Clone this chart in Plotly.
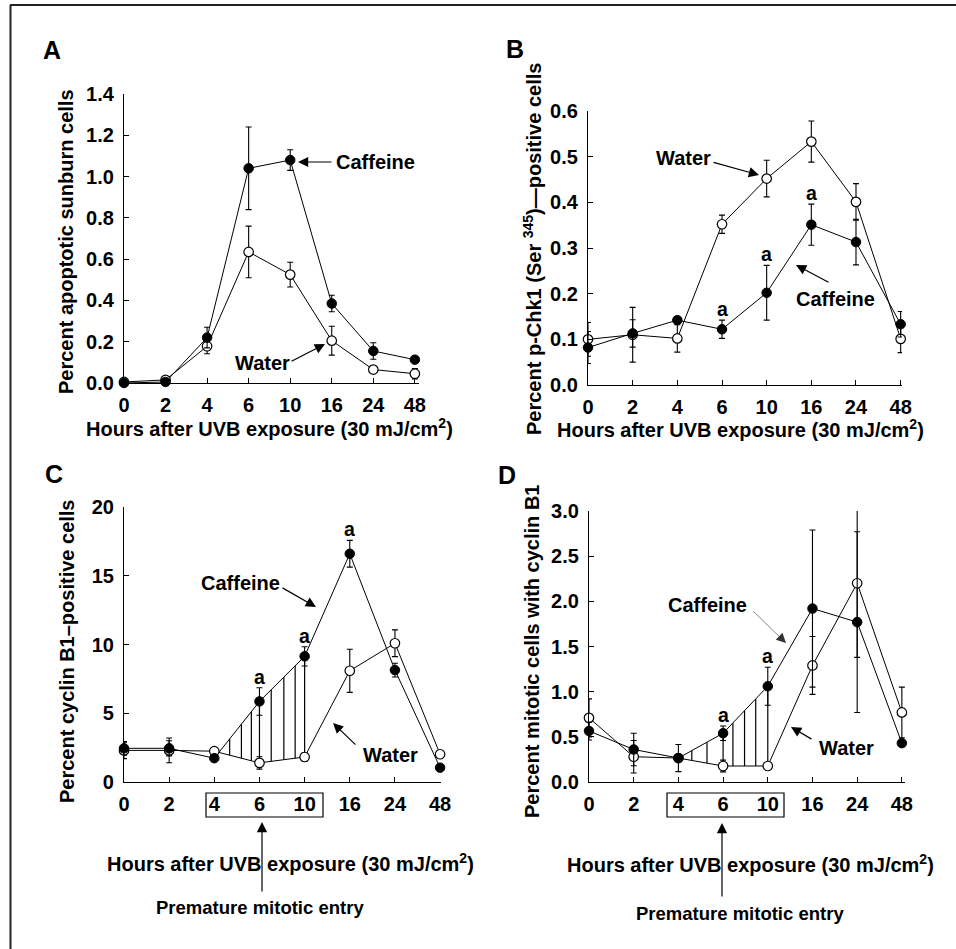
import numpy as np
import plotly.graph_objects as go

# ---------------- data ----------------
hours = ["0", "2", "4", "6", "10", "16", "24", "48"]

a_caffeine = [0.0, 0.005, 0.22, 1.04, 1.08, 0.385, 0.155, 0.113]
a_caffeine_err = [0.0, 0.0, 0.05, 0.20, 0.05, 0.04, 0.04, 0.01]
a_water = [0.005, 0.015, 0.178, 0.635, 0.525, 0.205, 0.065, 0.045]
a_water_err = [0.0, 0.005, 0.036, 0.125, 0.06, 0.07, 0.01, 0.025]

b_caffeine = [0.082, 0.113, 0.142, 0.122, 0.202, 0.351, 0.313, 0.133]
b_caffeine_err = [0.035, 0.03, 0.005, 0.02, 0.06, 0.045, 0.05, 0.028]
b_water = [0.10, 0.11, 0.102, 0.352, 0.452, 0.533, 0.401, 0.101]
b_water_err = [0.037, 0.06, 0.03, 0.02, 0.04, 0.045, 0.04, 0.03]

c_caffeine = [2.45, 2.45, 1.73, 5.86, 9.14, 16.6, 8.14, 1.04]
c_caffeine_err = [0.5, 0.55, 0.1, 1.0, 0.7, 0.97, 0.5, 0.1]
c_water = [2.3, 2.3, 2.24, 1.39, 1.82, 8.09, 10.09, 2.02]
c_water_err = [0.6, 0.9, 0.1, 0.45, 0.3, 1.57, 0.97, 0.1]

d_caffeine = [0.565, 0.36, 0.265, 0.54, 1.06, 1.92, 1.77, 0.43]
d_caffeine_err = [0.1, 0.18, 0.15, 0.08, 0.21, 0.87, 1.0, 0.03]
d_water = [0.71, 0.28, 0.265, 0.177, 0.177, 1.29, 2.20, 0.77]
d_water_err = [0.21, 0.18, 0.02, 0.065, 0.02, 0.32, 0.82, 0.28]

a_yticks = [0.0, 0.2, 0.4, 0.6, 0.8, 1.0, 1.2, 1.4]
b_yticks = [0.0, 0.1, 0.2, 0.3, 0.4, 0.5, 0.6]
c_yticks = [0, 5, 10, 15, 20]
d_yticks = [0.0, 0.5, 1.0, 1.5, 2.0, 2.5, 3.0]

b_sig = [3, 4, 5]
c_sig = [3, 4, 5]
d_sig = [3, 4]

c_hatch_pos = [2.34, 2.6, 2.82, 3.0, 3.26, 3.54, 3.79, 4.0]
d_hatch_pos = [2.3, 2.64, 3.0, 3.22, 3.48, 3.73, 4.0]

# ---------------- layout helpers ----------------
W, H = 956, 949
FONT = "Liberation Sans, Arial, sans-serif"


def px(x):
    return x / W


def py(y):
    return 1 - y / H


xi = list(range(len(hours)))

fig = go.Figure()

panels = [
    dict(c=a_caffeine, ce=a_caffeine_err, w=a_water, we=a_water_err, yt=a_yticks, fmt="{:.1f}",
         xd=(124, 419), xr=(0, 7.1), yd=(94, 383), yr=(0, 1.4), hatch=None),
    dict(c=b_caffeine, ce=b_caffeine_err, w=b_water, we=b_water_err, yt=b_yticks, fmt="{:.1f}",
         xd=(588, 902), xr=(0, 7.03), yd=(111, 385), yr=(0, 0.6), hatch=None),
    dict(c=c_caffeine, ce=c_caffeine_err, w=c_water, we=c_water_err, yt=c_yticks, fmt="{:d}",
         xd=(124, 441), xr=(0, 7.02), yd=(507, 782), yr=(0, 20), hatch=c_hatch_pos),
    dict(c=d_caffeine, ce=d_caffeine_err, w=d_water, we=d_water_err, yt=d_yticks, fmt="{:.1f}",
         xd=(589, 905), xr=(0, 7.07), yd=(511, 782), yr=(0, 3.0), hatch=d_hatch_pos),
]

tickfont = dict(family=FONT, size=20, color="black", weight="bold")

for i, p in enumerate(panels):
    n = "" if i == 0 else str(i + 1)
    xa, ya = "x" + n, "y" + n
    line = dict(color="black", width=1)
    fig.add_trace(go.Scatter(x=xi, y=p["c"], mode="lines", line=line, xaxis=xa, yaxis=ya,
                             cliponaxis=False, showlegend=False, hoverinfo="skip"))
    fig.add_trace(go.Scatter(x=xi, y=p["w"], mode="lines", line=line, xaxis=xa, yaxis=ya,
                             cliponaxis=False, showlegend=False, hoverinfo="skip"))
    if p["hatch"] is not None:
        hx, hy = [], []
        for pos in p["hatch"]:
            top = float(np.interp(pos, xi, p["c"]))
            bot = float(np.interp(pos, xi, p["w"]))
            hx += [pos, pos, None]
            hy += [top, bot, None]
        fig.add_trace(go.Scatter(x=hx, y=hy, mode="lines", line=dict(color="black", width=1.2),
                                 xaxis=xa, yaxis=ya, cliponaxis=False, showlegend=False,
                                 hoverinfo="skip"))
    fig.add_trace(go.Scatter(
        x=xi, y=p["w"], mode="markers", xaxis=xa, yaxis=ya, cliponaxis=False, showlegend=False,
        marker=dict(symbol="circle", size=9.5, color="white", line=dict(color="black", width=1.2)),
        error_y=dict(type="data", array=p["we"], visible=True, color="black", thickness=1.1, width=3)))
    fig.add_trace(go.Scatter(
        x=xi, y=p["c"], mode="markers", xaxis=xa, yaxis=ya, cliponaxis=False, showlegend=False,
        marker=dict(symbol="circle", size=9.5, color="black", line=dict(color="black", width=1)),
        error_y=dict(type="data", array=p["ce"], visible=True, color="black", thickness=1.1, width=3)))

    ax_common = dict(showline=True, linecolor="black", linewidth=1.2, showgrid=False, zeroline=False,
                     ticks="inside", ticklen=5, tickwidth=1, tickcolor="black", tickfont=tickfont,
                     automargin=False)
    fig.layout["xaxis" + n] = dict(
        domain=[px(p["xd"][0]), px(p["xd"][1])], range=list(p["xr"]), anchor=ya,
        tickmode="array", tickvals=xi, ticktext=hours, ticklabelstandoff=4, **ax_common)
    fig.layout["yaxis" + n] = dict(
        domain=[py(p["yd"][1]), py(p["yd"][0])], range=list(p["yr"]), anchor=xa,
        tickmode="array", tickvals=p["yt"], ticktext=[p["fmt"].format(v) for v in p["yt"]],
        ticklabelstandoff=5, **ax_common)

annotations = []


def text(x, y, s, size=20, angle=0, xref="paper", yref="paper", **kw):
    d = dict(x=x, y=y, xref=xref, yref=yref, text=s, showarrow=False, textangle=angle,
             font=dict(family=FONT, size=size, color="black", weight="bold"),
             xanchor="center", yanchor="middle")
    d.update(kw)
    annotations.append(d)


def arrow(tail, tip, width=1.2, color="black", size=1.7):
    annotations.append(dict(
        x=px(tip[0]), y=py(tip[1]), xref="paper", yref="paper", text="", showarrow=True,
        ax=tail[0] - tip[0], ay=tail[1] - tip[1], axref="pixel", ayref="pixel",
        arrowhead=2, arrowsize=size, arrowwidth=width, arrowcolor=color, standoff=0))


# panel letters
text(px(52), py(50), "A", size=25)
text(px(515), py(49), "B", size=25)
text(px(54), py(474), "C", size=25)
text(px(507), py(475), "D", size=25)

xtitle = "Hours after UVB exposure (30 mJ/cm<sup>2</sup>)"
text(px(66), py(242), "Percent apoptotic sunburn cells", angle=-90)
text(px(269), py(427), xtitle)
text(px(532), py(249), "Percent p-Chk1 (Ser <sup>345</sup>)—positive cells", angle=-90)
text(px(740), py(428), xtitle)
text(px(67), py(651), "Percent cyclin B1–positive cells", angle=-90)
text(px(290), py(862), xtitle)
text(px(532), py(652), "Percent mitotic cells with cyclin B1", angle=-90)
text(px(750), py(863), xtitle)
text(px(260), py(907), "Premature mitotic entry", size=18.5)
text(px(740), py(913), "Premature mitotic entry", size=18.5)

# series labels + arrows
text(px(375), py(162), "Caffeine")
arrow((333, 162), (298, 162))
text(px(262), py(363), "Water")
arrow((290, 362), (325, 344))

text(px(683), py(158), "Water")
arrow((712, 162), (759, 175))
text(px(835), py(299), "Caffeine")
arrow((830, 283), (796, 265))

text(px(240), py(583), "Caffeine")
arrow((281, 587), (316, 607))
text(px(390), py(755), "Water")
arrow((357, 746), (333, 723))

text(px(707), py(605), "Caffeine")
arrow((752, 610), (786, 643), width=0.6, color="#333", size=3.2)
text(px(846), py(748), "Water")
arrow((813, 740), (791, 727))

arrow((262, 893), (262, 822))
arrow((722, 898), (722, 823))

for idx_list, vals, errs, n in [(b_sig, b_caffeine, b_caffeine_err, "2"),
                                (c_sig, c_caffeine, c_caffeine_err, "3"),
                                (d_sig, d_caffeine, d_caffeine_err, "4")]:
    for k in idx_list:
        text(k, vals[k] + errs[k], "a", size=19.5, xref="x" + n, yref="y" + n,
             yanchor="bottom", yshift=-2)

shapes = [
    dict(type="rect", xref="paper", yref="paper", x0=px(206), x1=px(323), y0=py(793), y1=py(817),
         line=dict(color="black", width=1.2)),
    dict(type="rect", xref="paper", yref="paper", x0=px(667), x1=px(784), y0=py(793), y1=py(817),
         line=dict(color="black", width=1.2)),
    dict(type="line", xref="paper", yref="paper", x0=px(10), x1=1, y0=py(5), y1=py(5),
         line=dict(color="#222", width=2)),
    dict(type="line", xref="paper", yref="paper", x0=px(10.5), x1=px(10.5), y0=py(5), y1=0,
         line=dict(color="#222", width=2)),
]

fig.update_layout(
    width=W, height=H, margin=dict(l=0, r=0, t=0, b=0, autoexpand=False),
    paper_bgcolor="white", plot_bgcolor="white",
    annotations=annotations, shapes=shapes, showlegend=False,
    font=dict(family=FONT, color="black"),
)

fig.write_html("out.html", config={"displayModeBar": False},
               post_script="document.body.style.margin='0';document.body.style.overflow='hidden';")
